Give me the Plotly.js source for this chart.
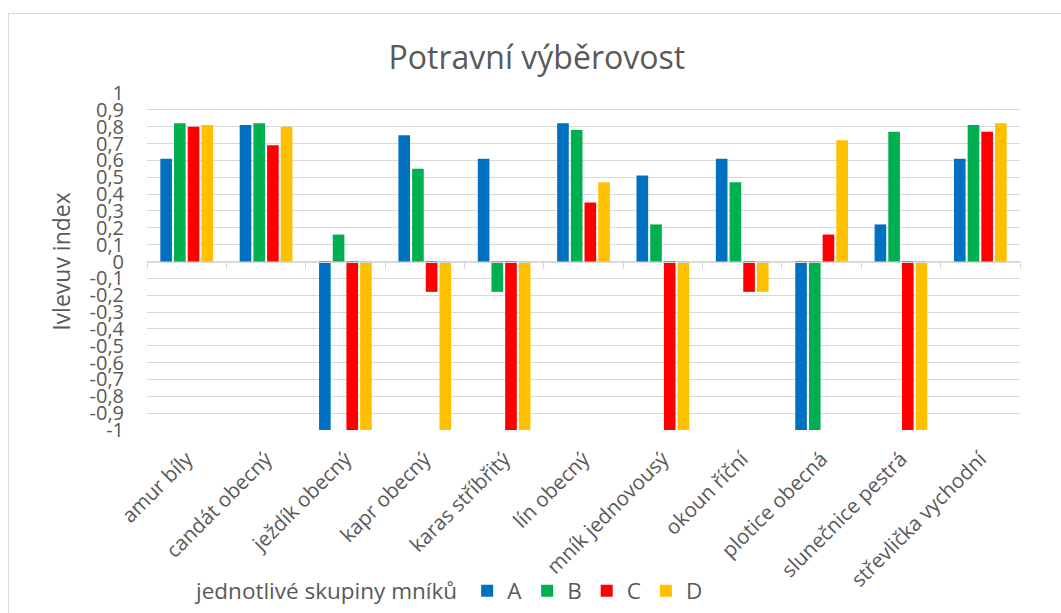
<!DOCTYPE html>
<html>
<head>
<meta charset="utf-8">
<script src="https://cdn.plot.ly/plotly-3.0.1.min.js"></script>
<style>
  html, body { margin: 0; padding: 0; background: #ffffff; }
  #frame { position: absolute; left: 8px; top: 13px; width: 1100px; height: 700px; border: 1px solid #d9d9d9; box-sizing: border-box; }
  #chart { position: absolute; left: 0; top: 0; width: 1061px; height: 613px; }
</style>
</head>
<body>
<div id="frame"></div>
<div id="chart"></div>
<script>
const categories = ["amur bíly", "candát obecný", "ježdík obecný", "kapr obecný", "karas stříbřitý", "lín obecný", "mník jednovousý", "okoun říční", "plotice obecná", "slunečnice pestrá", "střevlička vychodní"];
const seriesNames = ["A", "B", "C", "D"];
const valuesA = [0.61, 0.81, -1, 0.75, 0.61, 0.82, 0.51, 0.61, -1, 0.22, 0.61];
const valuesB = [0.82, 0.82, 0.16, 0.55, -0.18, 0.78, 0.22, 0.47, -1, 0.77, 0.81];
const valuesC = [0.80, 0.69, -1, -0.18, -1, 0.35, -1, -0.18, 0.16, -1, 0.77];
const valuesD = [0.81, 0.80, -1, -1, -1, 0.47, -1, -0.18, 0.72, -1, 0.82];
const seriesColors = ["#0070C0", "#00B050", "#FF0000", "#FFC000"];
const yTickVals = [1, 0.9, 0.8, 0.7, 0.6, 0.5, 0.4, 0.3, 0.2, 0.1, 0, -0.1, -0.2, -0.3, -0.4, -0.5, -0.6, -0.7, -0.8, -0.9, -1];
const yTickText = ["1", "0,9", "0,8", "0,7", "0,6", "0,5", "0,4", "0,3", "0,2", "0,1", "0", "-0,1", "-0,2", "-0,3", "-0,4", "-0,5", "-0,6", "-0,7", "-0,8", "-0,9", "-1"];

const allValues = [valuesA, valuesB, valuesC, valuesD];
const FONT = "Open Sans, Lato, sans-serif";
const GREY = "#595959";

const traces = allValues.map((vals, i) => ({
  type: "bar",
  name: seriesNames[i],
  x: categories,
  y: vals,
  marker: { color: seriesColors[i], line: { width: 0 } },
  hoverinfo: "x+y+name"
}));

// invisible helper trace to draw the category axis at y = 0
traces.push({
  type: "scatter",
  mode: "markers",
  x: categories,
  y: valuesA,
  xaxis: "x2",
  marker: { opacity: 0 },
  showlegend: false,
  hoverinfo: "skip"
});

const layout = {
  width: 1061,
  height: 613,
  paper_bgcolor: "rgba(0,0,0,0)",
  plot_bgcolor: "rgba(0,0,0,0)",
  margin: { l: 147, r: 41, t: 93, b: 183 },
  font: { family: FONT, color: GREY },
  title: {
    text: "Potravní výběrovost",
    font: { family: FONT, size: 32, color: GREY },
    x: 0.506, xanchor: "center",
    y: 1 - 58 / 613, yanchor: "middle", yref: "container"
  },
  barmode: "group",
  bargap: 0.31,
  bargroupgap: 0.15,
  xaxis: {
    type: "category",
    categoryorder: "array",
    categoryarray: categories,
    range: [-0.5, categories.length - 0.5],
    showgrid: false,
    zeroline: false,
    showline: false,
    ticks: "",
    tickangle: -45,
    ticklabelstandoff: 12,
    tickfont: { family: FONT, size: 20.5, color: GREY }
  },
  xaxis2: {
    type: "category",
    categoryorder: "array",
    categoryarray: categories,
    range: [-0.5, categories.length - 0.5],
    overlaying: "x",
    anchor: "free",
    position: 0.5,
    side: "bottom",
    showgrid: false,
    zeroline: false,
    showline: true,
    linecolor: "#d9d9d9",
    linewidth: 1,
    ticks: "outside",
    tickson: "boundaries",
    ticklen: 6,
    tickcolor: "#d9d9d9",
    tickwidth: 1,
    showticklabels: false
  },
  yaxis: {
    range: [-1, 1],
    tickmode: "array",
    tickvals: yTickVals,
    ticktext: yTickText,
    showgrid: true,
    gridcolor: "#d9d9d9",
    gridwidth: 1,
    zeroline: true,
    zerolinecolor: "#d9d9d9",
    zerolinewidth: 1,
    showline: false,
    ticks: "",
    ticklabelstandoff: 22,
    tickfont: { family: FONT, size: 20, color: GREY },
    title: {
      text: "Ivlevuv index",
      font: { family: FONT, size: 23, color: GREY },
      standoff: 12
    }
  },
  showlegend: true,
  legend: {
    orientation: "h",
    xref: "container",
    yref: "container",
    x: 194 / 1061,
    xanchor: "left",
    y: 1 - 591 / 613,
    yanchor: "middle",
    traceorder: "normal",
    itemwidth: 30,
    font: { family: FONT, size: 22.5, color: GREY },
    title: { text: "jednotlivé skupiny mníků", font: { family: FONT, size: 22.5, color: GREY }, side: "left" },
    bgcolor: "rgba(0,0,0,0)"
  }
};

Plotly.newPlot("chart", traces, layout, { displayModeBar: false, staticPlot: true });
</script>
</body>
</html>
